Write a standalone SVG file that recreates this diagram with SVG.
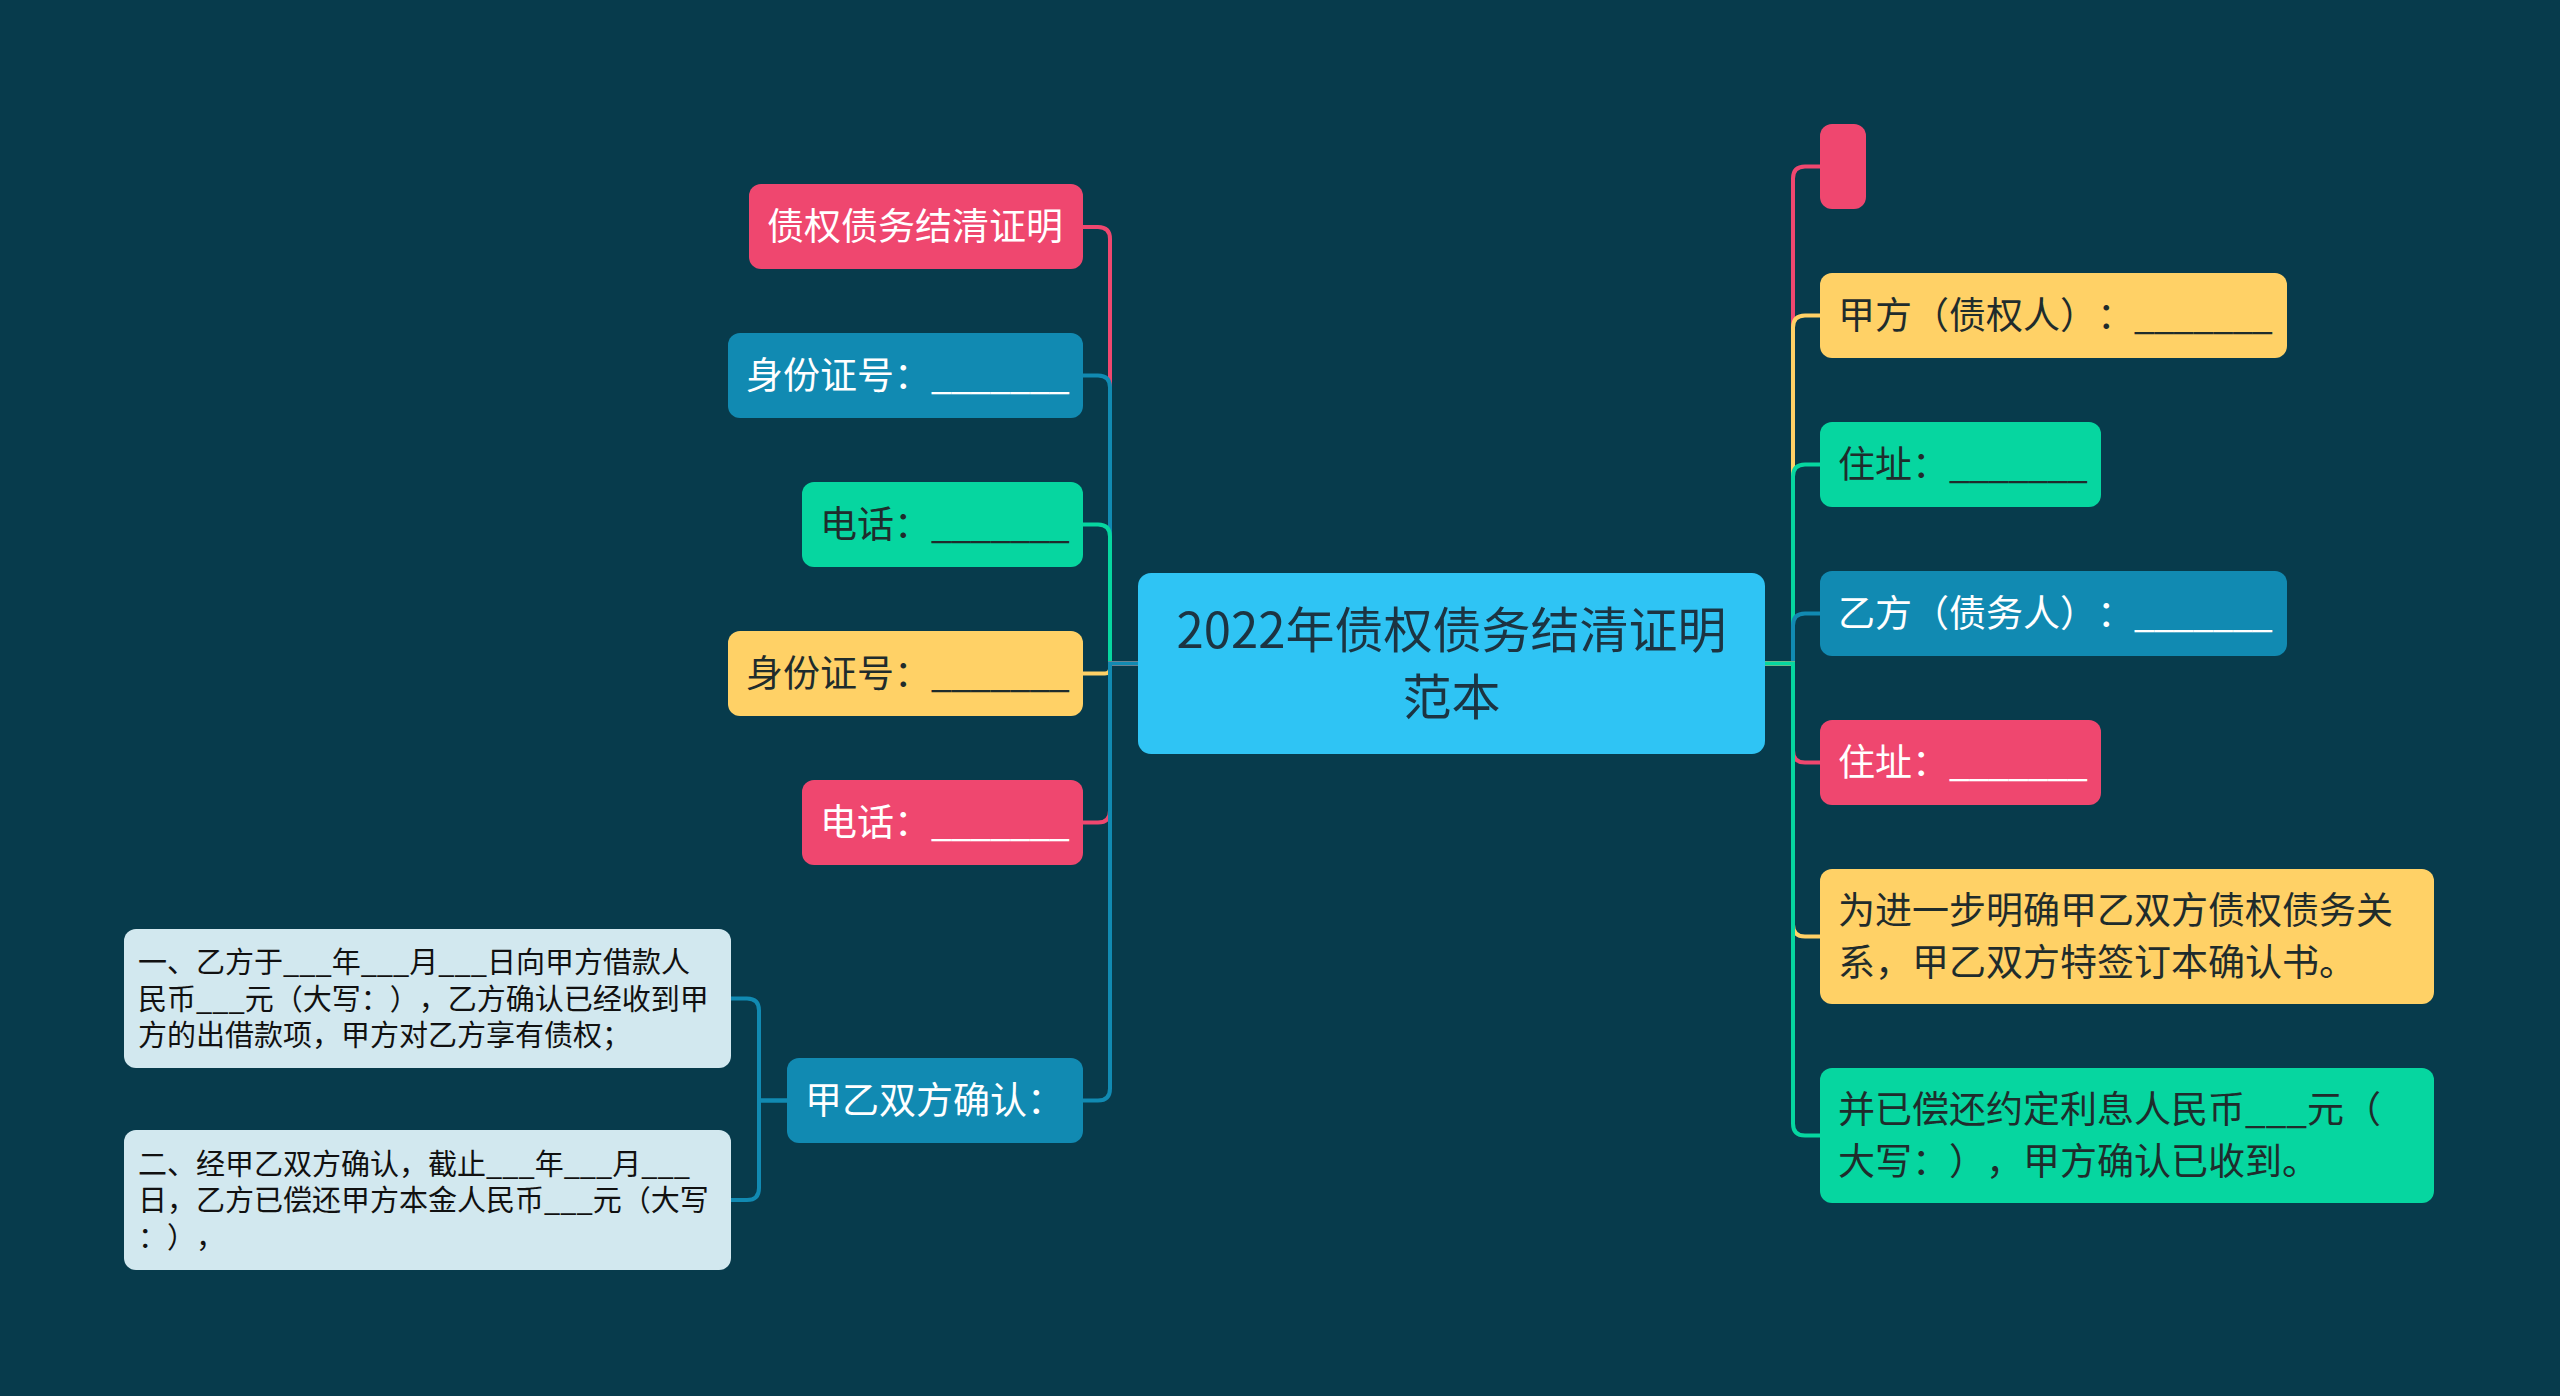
<svg xmlns="http://www.w3.org/2000/svg" width="2560" height="1396" viewBox="0 0 2560 1396">
<style>
text{text-spacing-trim:space-all}
.t{font-family:"Noto Sans CJK SC","Noto Sans",sans-serif;font-size:37px}
.w{fill:#ffffff}
.d{fill:#1f2c2c}
.u{letter-spacing:-1px}
.n{font-family:"Noto Sans CJK SC","Noto Sans",sans-serif;font-size:29px;fill:#111111}
.c{font-family:"Noto Sans CJK SC","Noto Sans",sans-serif;font-size:49px;fill:#1c3442}
.pk{fill:#ef476f}
.yl{fill:#ffd166}
.gr{fill:#06d6a0}
.bl{fill:#118ab2}
.lk{fill:none;stroke-width:4;stroke-linecap:round}
.spk{stroke:#ef476f}
.syl{stroke:#ffd166}
.sgr{stroke:#06d6a0}
.sbl{stroke:#118ab2}
</style>
<rect x="0" y="0" width="2560" height="1396" fill="#073b4c"/>
<g id="connectors">
<path class="lk spk" d="M1138,663.5 H1110 V239 Q1110,227 1098,227 H1083"/>
<path class="lk sbl" d="M1138,663.5 H1110 V387.5 Q1110,375.5 1098,375.5 H1083"/>
<path class="lk sgr" d="M1138,663.5 H1110 V536.5 Q1110,524.5 1098,524.5 H1083"/>
<path class="lk syl" d="M1138,663.5 H1110 V668.5 Q1110,673.5 1105,673.5 H1083"/>
<path class="lk spk" d="M1138,663.5 H1110 V810.5 Q1110,822.5 1098,822.5 H1083"/>
<path class="lk sbl" d="M1138,663.5 H1110 V1088.5 Q1110,1100.5 1098,1100.5 H1083"/>
<path class="lk spk" d="M1765,663.5 H1793 V178.5 Q1793,166.5 1805,166.5 H1820"/>
<path class="lk syl" d="M1765,663.5 H1793 V327.5 Q1793,315.5 1805,315.5 H1820"/>
<path class="lk sgr" d="M1765,663.5 H1793 V476.5 Q1793,464.5 1805,464.5 H1820"/>
<path class="lk sbl" d="M1765,663.5 H1793 V625.5 Q1793,613.5 1805,613.5 H1820"/>
<path class="lk spk" d="M1765,663.5 H1793 V750.5 Q1793,762.5 1805,762.5 H1820"/>
<path class="lk syl" d="M1765,663.5 H1793 V924.5 Q1793,936.5 1805,936.5 H1820"/>
<path class="lk sgr" d="M1765,663.5 H1793 V1123.5 Q1793,1135.5 1805,1135.5 H1820"/>
<path class="lk sbl" d="M787,1100.5 H759 V1010.5 Q759,998.5 747,998.5 H731"/>
<path class="lk sbl" d="M787,1100.5 H759 V1188 Q759,1200 747,1200 H731"/>
</g>
<g id="center">
<rect x="1138" y="573" width="627" height="181" rx="13" fill="#2fc4f4"/>
<text class="c" x="1451.5" y="648" text-anchor="middle">2022年债权债务结清证明</text>
<text class="c" x="1451.5" y="715" text-anchor="middle">范本</text>
</g>
<g id="l1"><rect class="pk" x="749" y="184" width="334" height="85" rx="12"/><text class="t w" x="767" y="240">债权债务结清证明</text></g>
<g id="l2"><rect class="bl" x="728" y="333" width="355" height="85" rx="12"/><text class="t w" x="746" y="389">身份证号：<tspan class="u">_______</tspan></text></g>
<g id="l3"><rect class="gr" x="802" y="482" width="281" height="85" rx="12"/><text class="t d" x="820" y="538">电话：<tspan class="u">_______</tspan></text></g>
<g id="l4"><rect class="yl" x="728" y="631" width="355" height="85" rx="12"/><text class="t d" x="746" y="687">身份证号：<tspan class="u">_______</tspan></text></g>
<g id="l5"><rect class="pk" x="802" y="780" width="281" height="85" rx="12"/><text class="t w" x="820" y="836">电话：<tspan class="u">_______</tspan></text></g>
<g id="l6"><rect class="bl" x="787" y="1058" width="296" height="85" rx="12"/><text class="t w" x="805" y="1114">甲乙双方确认：</text></g>
<g id="note1"><rect x="124" y="929" width="607" height="139" rx="12" fill="#d2e8ef"/>
<text class="n" x="138" y="973">一、乙方于___年___月___日向甲方借款人</text>
<text class="n" x="138" y="1009.5">民币___元（大写：），乙方确认已经收到甲</text>
<text class="n" x="138" y="1046">方的出借款项，甲方对乙方享有债权；</text></g>
<g id="note2"><rect x="124" y="1130" width="607" height="140" rx="12" fill="#d2e8ef"/>
<text class="n" x="138" y="1174.5">二、经甲乙双方确认，截止___年___月___</text>
<text class="n" x="138" y="1211">日，乙方已偿还甲方本金人民币___元（大写</text>
<text class="n" x="138" y="1247.5">：），</text></g>
<g id="r1"><rect class="pk" x="1820" y="124" width="46" height="85" rx="12"/></g>
<g id="r2"><rect class="yl" x="1820" y="273" width="467" height="85" rx="12"/><text class="t d" x="1838" y="329">甲方（债权人）：<tspan class="u">_______</tspan></text></g>
<g id="r3"><rect class="gr" x="1820" y="422" width="281" height="85" rx="12"/><text class="t d" x="1838" y="478">住址：<tspan class="u">_______</tspan></text></g>
<g id="r4"><rect class="bl" x="1820" y="571" width="467" height="85" rx="12"/><text class="t w" x="1838" y="627">乙方（债务人）：<tspan class="u">_______</tspan></text></g>
<g id="r5"><rect class="pk" x="1820" y="720" width="281" height="85" rx="12"/><text class="t w" x="1838" y="776">住址：<tspan class="u">_______</tspan></text></g>
<g id="r6"><rect class="yl" x="1820" y="869" width="614" height="135" rx="12"/>
<text class="t d" x="1838" y="924">为进一步明确甲乙双方债权债务关</text>
<text class="t d" x="1838" y="976">系，甲乙双方特签订本确认书。</text></g>
<g id="r7"><rect class="gr" x="1820" y="1068" width="614" height="135" rx="12"/>
<text class="t d" x="1838" y="1123">并已偿还约定利息人民币___元（</text>
<text class="t d" x="1838" y="1175">大写：），甲方确认已收到。</text></g>
</svg>
